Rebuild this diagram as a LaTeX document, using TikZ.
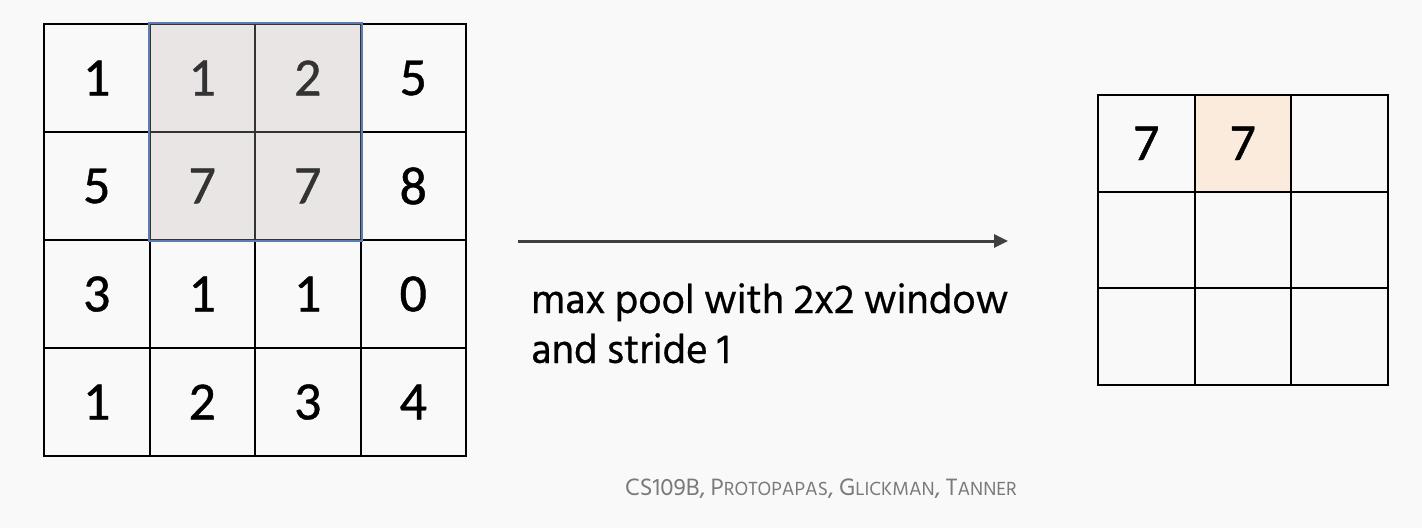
\documentclass[tikz,border=0pt]{standalone}
\usepackage{fontspec}
\setmainfont{Hind Siliguri}[FakeBold=0.6]
\newfontfamily\footfont{Hind Siliguri}
\newfontfamily\digitfont{Carlito}[FakeBold=0.8]
\usetikzlibrary{arrows.meta}
\definecolor{bgc}{HTML}{F9F9F9}
\definecolor{hlgray}{HTML}{E8E5E4}
\definecolor{hlblue}{HTML}{5B7DB3}
\definecolor{hlorange}{HTML}{FBEBDC}
\definecolor{arrowc}{HTML}{404040}
\definecolor{footc}{HTML}{7A7A7A}
\definecolor{dimdigit}{HTML}{333333}
\tikzset{
  cellA/.style={draw=black, line width=2pt, minimum width=105.5pt, minimum height=108pt, inner sep=0pt, font=\digitfont\fontsize{54}{54}\selectfont},
  cellB/.style={draw=black, line width=2pt, minimum width=96.5pt, minimum height=96.7pt, inner sep=0pt, font=\digitfont\fontsize{52}{52}\selectfont},
  hlcell/.style={fill=hlgray, text=dimdigit, draw=dimdigit},
  flow/.style={draw=arrowc, line width=3pt, -{Triangle[length=14pt,width=13pt]}},
}
\begin{document}
\begin{tikzpicture}[x=1pt,y=-1pt]
\fill[bgc] (0,0) rectangle (1422,528);
\useasboundingbox (0,0) rectangle (1422,528);
% left grid
\foreach \r/\row in {0/{1,1,2,5},1/{5,7,7,8},2/{3,1,1,0},3/{1,2,3,4}}{
  \foreach \v [count=\c from 0] in \row {
    \pgfmathsetmacro{\cx}{44+105.5*(\c+0.5)}
    \pgfmathsetmacro{\cy}{24+108*(\r+0.5)}
    \node[cellA] (a\r\c) at (\cx,\cy) {\v};
  }
}
% highlighted window
\foreach \r in {0,1}{
  \foreach \c in {1,2}{
    \pgfmathsetmacro{\cx}{44+105.5*(\c+0.5)}
    \pgfmathsetmacro{\cy}{24+108*(\r+0.5)}
    \node[cellA, hlcell] (h\r\c) at (\cx,\cy) {\pgfmathparse{int(\r==0 ? (\c==1 ? 1 : 2) : 7)}\pgfmathresult};
  }
}
\draw[hlblue, line width=2pt] (h01.north west) rectangle (h12.south east);
% arrow
\coordinate (arrS) at (518,241);
\coordinate (arrE) at (1008,241);
\draw[flow] (arrS) -- (arrE);
\node[anchor=base west, inner sep=0pt, align=left, font=\fontsize{41.5}{50}\selectfont] (lab) at (531,363) {max pool with 2x2 window\\and stride 1};
% right grid
\foreach \r in {0,1,2}{
  \foreach \c in {0,1,2}{
    \pgfmathsetmacro{\cx}{1098+96.5*(\c+0.5)}
    \pgfmathsetmacro{\cy}{95+96.7*(\r+0.5)}
    \node[cellB] (b\r\c) at (\cx,\cy) {};
  }
}
\node[cellB, fill=hlorange] (b01) at (b01) {7};
\node[cellB] (b00) at (b00) {7};
% footer
\node[anchor=base west, inner sep=0pt, text=footc, font=\footfont\fontsize{24.3}{24.3}\selectfont] (foot) at (625,495)
 {CS109B, P{\fontsize{19.5}{19.5}\selectfont ROTOPAPAS}, G{\fontsize{19.5}{19.5}\selectfont LICKMAN}, T{\fontsize{19.5}{19.5}\selectfont ANNER}};
\end{tikzpicture}
\end{document}
